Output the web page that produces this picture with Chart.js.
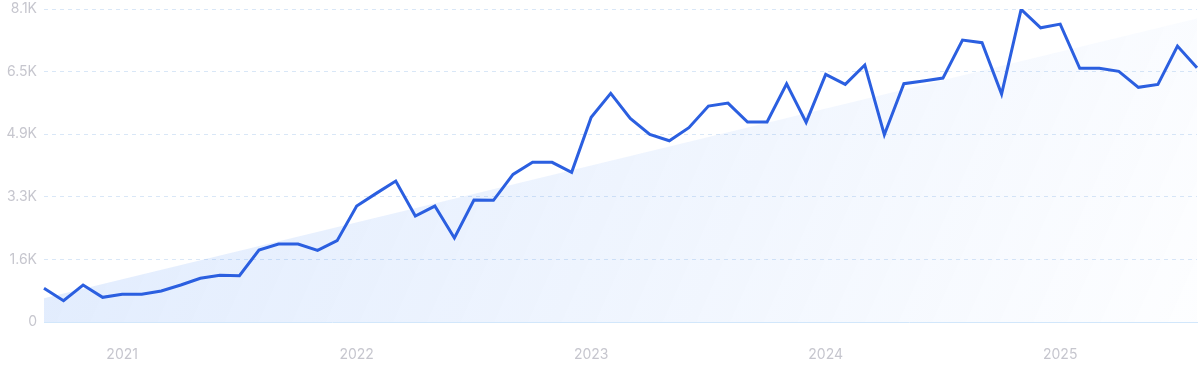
<!DOCTYPE html>
<html>
<head>
<meta charset="utf-8">
<script src="https://cdn.jsdelivr.net/npm/chart.js@4"></script>
<style>
  html, body { margin: 0; padding: 0; background: #fff; overflow: hidden; }
  #wrap { width: 1200px; height: 371px; position: relative; }
  canvas { display: block; }
</style>
</head>
<body>
<div id="wrap"><canvas id="canvas"></canvas></div>
<script>
var months = [
  '2020-09','2020-10','2020-11','2020-12',
  '2021-01','2021-02','2021-03','2021-04','2021-05','2021-06','2021-07','2021-08','2021-09','2021-10','2021-11','2021-12',
  '2022-01','2022-02','2022-03','2022-04','2022-05','2022-06','2022-07','2022-08','2022-09','2022-10','2022-11','2022-12',
  '2023-01','2023-02','2023-03','2023-04','2023-05','2023-06','2023-07','2023-08','2023-09','2023-10','2023-11','2023-12',
  '2024-01','2024-02','2024-03','2024-04','2024-05','2024-06','2024-07','2024-08','2024-09','2024-10','2024-11','2024-12',
  '2025-01','2025-02','2025-03','2025-04','2025-05','2025-06','2025-07','2025-08'
];

var searches = [
  875, 553, 960, 641,
  719, 719, 805, 960, 1134, 1212, 1202, 1869, 2025, 2025, 1861, 2111,
  3011, 3340, 3660, 2752, 3011, 2181, 3167, 3159, 3834, 4146, 4146, 3886,
  5314, 5937, 5288, 4872, 4707, 5045, 5607, 5685, 5192, 5192, 6187, 5184,
  6430, 6170, 6672, 4863, 6187, 6256, 6334, 7321, 7252, 5919, 8118, 7640,
  7736, 6586, 6586, 6508, 6093, 6170, 7165, 6602
];

// trend line: start and end values only
var trendStart = 615;
var trendEnd = 7884;

var yTickLabels = ['0', '1.6K', '3.3K', '4.9K', '6.5K', '8.1K'];
var yStep = 1625;
var yMax = 8125;

var ctx = document.getElementById('canvas').getContext('2d');

function trendFill(context) {
  var chart = context.chart;
  var area = chart.chartArea;
  if (!area) return 'rgba(59,130,246,0.14)';
  var g = chart.ctx.createLinearGradient(area.left, area.top, area.right, area.bottom + 200);
  g.addColorStop(0, 'rgba(59,130,246,0.16)');
  g.addColorStop(1, 'rgba(59,130,246,0.0)');
  return g;
}

var myChart = new Chart(ctx, {
  type: 'line',
  data: {
    labels: months,
    datasets: [{
      label: 'searches',
      data: searches,
      borderColor: '#2b5fe0',
      borderWidth: 3,
      pointRadius: 0,
      tension: 0,
      fill: false,
      order: 1
    }, {
      label: 'trend',
      data: [{ x: months[0], y: trendStart }, { x: months[months.length - 1], y: trendEnd }],
      borderWidth: 0,
      borderColor: 'rgba(0,0,0,0)',
      backgroundColor: trendFill,
      pointRadius: 0,
      fill: 'origin',
      order: 2
    }]
  },
  options: {
    responsive: true,
    maintainAspectRatio: false,
    animation: false,
    layout: { padding: 0 },
    plugins: {
      legend: { display: false },
      tooltip: { enabled: false }
    },
    scales: {
      x: {
        offset: false,
        grid: {
          display: true,
          drawOnChartArea: false,
          drawTicks: true,
          tickLength: 21,
          tickColor: 'rgba(0,0,0,0)',
          color: 'rgba(0,0,0,0)'
        },
        border: { display: true, color: '#d2e7fb', width: 1 },
        ticks: {
          autoSkip: false,
          maxRotation: 0,
          padding: 3,
          color: '#c6c6ce',
          font: { family: 'Inter', size: 14 },
          callback: function(v, i) {
            var m = months[i];
            return m.slice(5) === '01' ? m.slice(0, 4) : '';
          }
        },
        afterFit: function(s) { s.height = 49; }
      },
      y: {
        min: 0,
        max: yMax,
        grid: {
          color: function(c) { return c.tick.value === 0 ? 'rgba(0,0,0,0)' : '#d9e7f7'; },
          drawTicks: true,
          tickLength: 7,
          tickColor: 'rgba(0,0,0,0)',
          lineWidth: 1
        },
        border: { display: false, dash: [4, 4] },
        ticks: {
          stepSize: yStep,
          padding: 0,
          color: '#c6c6ce',
          font: { family: 'Inter', size: 14, lineHeight: 1.3 },
          callback: function(v, i) { return yTickLabels[i]; }
        },
        afterFit: function(s) { s.width = 44; }
      }
    }
  }
});
</script>
</body>
</html>
